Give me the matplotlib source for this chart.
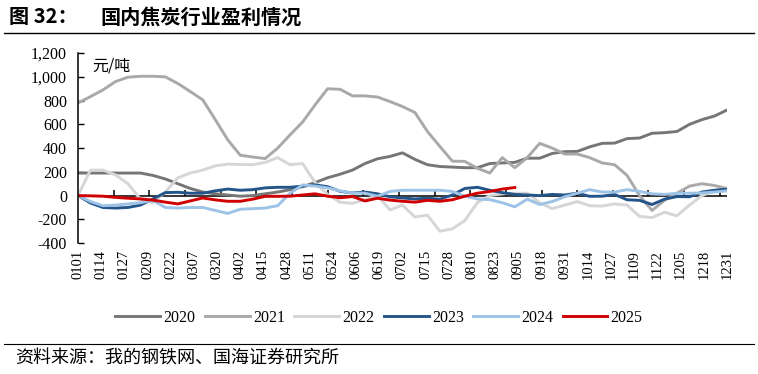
import numpy as np
import matplotlib
matplotlib.use("Agg")
import matplotlib.pyplot as plt
from matplotlib.lines import Line2D
from matplotlib.ticker import FuncFormatter

plt.rcParams['font.family'] = ['Liberation Serif', 'Noto Sans CJK SC']
CJK = ['Noto Sans CJK SC', 'DejaVu Sans']

# weekly samples, day index 0..364
years = ['2020', '2021', '2022', '2023', '2024', '2025']
v2020 = [190, 190, 190, 190, 190, 190, 170, 140, 100, 60, 30, 15, 5, -5, 0, 15, 30, 50, 75, 110,
         150, 180, 215, 270, 310, 330, 360, 305, 260, 245, 240, 235, 235, 270, 275, 280, 315, 315, 355, 370,
         372, 410, 440, 442, 480, 485, 525, 530, 540, 600, 640, 670, 720]
v2021 = [780, 834, 890, 960, 997, 1005, 1005, 1000, 944, 876, 806, 640, 470, 340, 325, 312, 400, 512, 620, 764,
         900, 895, 840, 840, 830, 792, 750, 700, 540, 414, 290, 288, 230, 190, 320, 235, 320, 440, 400, 350,
         350, 320, 275, 260, 170, 0, -125, -40, 20, 80, 100, 85, 60]
v2022 = [0, 215, 215, 175, 100, -30, -60, 30, 150, 190, 215, 250, 265, 262, 260, 280, 320, 260, 270, 110,
         10, -56, -65, -34, 0, -120, -80, -180, -165, -300, -280, -210, -60, 0, 15, 20, 20, -60, -110, -80,
         -50, -85, -88, -70, -80, -175, -185, -140, -170, -80, 0, 40, 60]
v2023 = [0, -62, -100, -105, -100, -80, -28, 25, 28, 20, 20, 40, 55, 45, 50, 65, 70, 70, 80, 90,
         75, 36, 22, 30, 15, -10, -20, -28, -22, -30, 5, 60, 70, 45, 25, 10, 5, 0, 10, 5,
         20, -6, -5, 10, -35, -40, -75, -30, -8, -10, 30, 45, 55]
v2024 = [0, -50, -85, -80, -70, -60, -40, -100, -105, -100, -100, -125, -150, -115, -110, -105, -85, 20, 90, 80,
         65, 40, 22, 20, -5, 35, 45, 45, 45, 45, 35, -5, -28, -34, -60, -95, -30, -75, -50, -10,
         20, 50, 30, 30, 50, 35, 15, 10, 20, 20, 22, 30, 40]
v2025 = [0, -2, -5, -15, -22, -28, -38, -55, -70, -45, -20, -36, -48, -48, -30, -6, -6, -5, 5, 15,
         -5, -18, -8, -45, -22, -38, -48, -55, -40, -48, -35, -5, 20, 35, 55, 68]
series = [v2020, v2021, v2022, v2023, v2024, v2025]
colors = ['#767676', '#a9a9a9', '#d6d6d6', '#24558a', '#9dc3e6', '#d00000']

tick_labels = ['0101', '0114', '0127', '0209', '0222', '0307', '0320', '0402', '0415', '0428',
               '0511', '0524', '0606', '0619', '0702', '0715', '0728', '0810', '0823', '0905',
               '0918', '0931', '1014', '1027', '1109', '1122', '1205', '1218', '1231']

fig = plt.figure(figsize=(7.58, 3.74), dpi=100)
ax = fig.add_axes([0.1029, 0.350, 0.8561, 0.508])

for name, vals, c in zip(years, series, colors):
    x = np.arange(len(vals)) * 7
    ax.plot(x, vals, color=c, lw=2.1, label=name, solid_joinstyle='round')

ax.set_xlim(0, 364)
ax.set_ylim(-400, 1200)

# zero line with small upward ticks
ax.axhline(0, color='black', lw=1.1, zorder=1)
mt = np.arange(20, 364, 20)
ax.plot(mt, np.zeros(len(mt)), ls='none', marker=2, ms=4, mew=1.1, color='black', zorder=1)

ax.set_xticks(np.arange(len(tick_labels)) * 13)
ax.set_xticklabels(tick_labels, rotation=90, fontsize=10.5)
ax.tick_params(axis='x', length=0, pad=5)
ax.set_yticks(np.arange(-400, 1201, 200))
ax.yaxis.set_major_formatter(FuncFormatter(lambda v, p: f"{int(v):,}"))
ax.tick_params(axis='y', direction='in', length=4, width=1, pad=8, labelsize=11.5)

for s in ['top', 'right', 'bottom']:
    ax.spines[s].set_visible(False)
ax.spines['left'].set_linewidth(1.1)

ax.text(0.022, 0.975, '元/吨', transform=ax.transAxes, family=CJK, fontsize=11.5, va='top')

fig.legend(loc='center', bbox_to_anchor=(0.5, 0.15), ncol=6, frameon=False, fontsize=11.5,
           handlelength=2.8, handletextpad=0.2, columnspacing=0.6)

fig.text(0.012, 0.955, '图 32：', family=CJK, weight='bold', fontsize=14.5, va='center')
fig.text(0.132, 0.955, '国内焦炭行业盈利情况', family=CJK, weight='bold', fontsize=14.5, va='center')
fig.add_artist(Line2D([0.005, 0.995], [0.913, 0.913], transform=fig.transFigure, color='black', lw=1))
fig.add_artist(Line2D([0.005, 0.995], [0.080, 0.080], transform=fig.transFigure, color='black', lw=0.8))
fig.text(0.02, 0.043, '资料来源：我的钢铁网、国海证券研究所', family=CJK, fontsize=13, va='center')

fig.savefig('out.png', dpi=100)
